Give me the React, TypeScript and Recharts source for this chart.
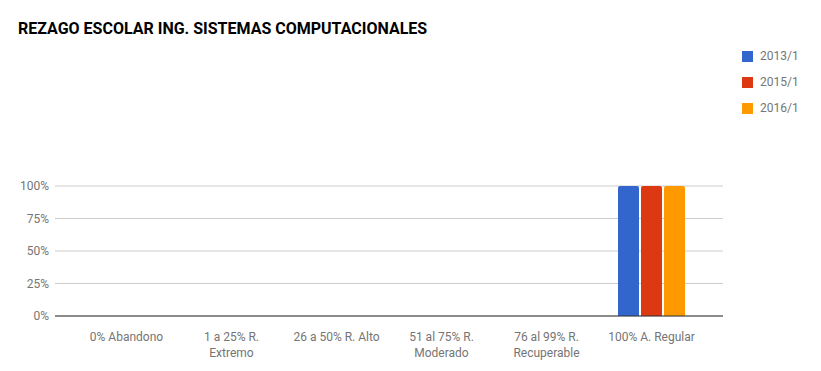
import { BarChart, Bar, XAxis, YAxis, CartesianGrid } from "recharts";

const categories = [
  "0% Abandono",
  "1 a 25% R.\nExtremo",
  "26 a 50% R. Alto",
  "51 al 75% R.\nModerado",
  "76 al 99% R.\nRecuperable",
  "100% A. Regular",
];
const s2013 = [0, 0, 0, 0, 0, 1];
const s2015 = [0, 0, 0, 0, 0, 1];
const s2016 = [0, 0, 0, 0, 0, 1];
const yTicks = [0, 0.25, 0.5, 0.75, 1];

const series = [
  { key: "2013/1", color: "#3366cc" },
  { key: "2015/1", color: "#dc3912" },
  { key: "2016/1", color: "#ff9900" },
];

const data = categories.map((c, i) => ({
  name: c,
  "2013/1": s2013[i],
  "2015/1": s2015[i],
  "2016/1": s2016[i],
}));

const font = "Roboto, 'Noto Sans', sans-serif";

const XTick = ({ x, y, payload }: any) => (
  <text x={x} y={y + 17} textAnchor="middle" fontSize={12} fontFamily={font} fill="#757575">
    {String(payload.value)
      .split("\n")
      .map((line: string, i: number) => (
        <tspan key={i} x={x} dy={i === 0 ? 0 : 16}>
          {line}
        </tspan>
      ))}
  </text>
);

export default function App() {
  return (
    <div style={{ position: "absolute", left: 0, top: 0, width: 821, height: 371, background: "#fff" }}>
      <div
        style={{
          position: "absolute",
          left: 18,
          top: 19,
          fontFamily: font,
          fontWeight: "bold",
          fontSize: 16,
          color: "#000",
        }}
      >
        REZAGO ESCOLAR ING. SISTEMAS COMPUTACIONALES
      </div>
      <div style={{ position: "absolute", left: 742, top: 43, fontFamily: font, fontSize: 12, color: "#757575" }}>
        {series.map((s) => (
          <div key={s.key} style={{ display: "flex", alignItems: "center", height: 26 }}>
            <span style={{ width: 11, height: 11, background: s.color, display: "inline-block", marginRight: 7 }} />
            {s.key}
          </div>
        ))}
      </div>
      <BarChart
        width={821}
        height={371}
        data={data}
        margin={{ top: 186, right: 98, left: 1, bottom: 0 }}
        barCategoryGap={19}
        barGap={2}
      >
        <CartesianGrid vertical={false} stroke="#cccccc" />
        <XAxis
          dataKey="name"
          interval={0}
          tick={<XTick />}
          tickLine={false}
          axisLine={{ stroke: "#333333" }}
          padding={{ left: 19, right: 19 }}
          height={55}
        />
        <YAxis
          domain={[0, 1]}
          ticks={yTicks}
          width={54}
          tickLine={false}
          axisLine={false}
          tickSize={0}
          tickMargin={6}
          tickFormatter={(v: number) => `${Math.round(v * 100)}%`}
          tick={{ fontFamily: font, fontSize: 12, fill: "#757575" }}
        />
        {series.map((s) => (
          <Bar key={s.key} dataKey={s.key} fill={s.color} radius={[2, 2, 0, 0]} isAnimationActive={false} />
        ))}
      </BarChart>
    </div>
  );
}
